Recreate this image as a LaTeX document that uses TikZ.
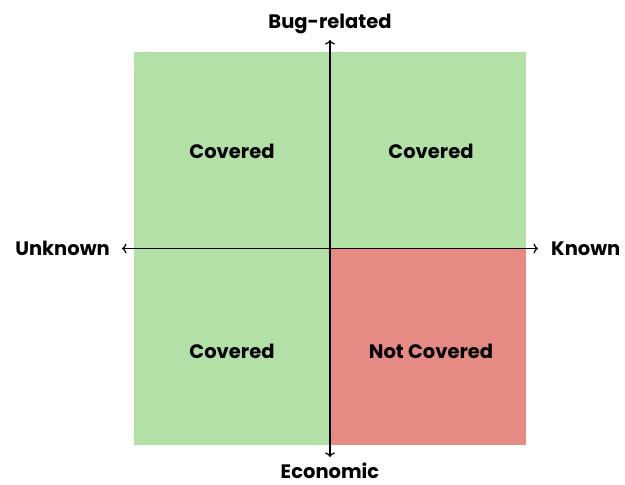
\documentclass[tikz,border=0pt]{standalone}
\usepackage{fontspec}
\setmainfont{Poppins}
\usetikzlibrary{arrows.meta}
\definecolor{qgreen}{HTML}{B3E0A6}
\definecolor{qred}{HTML}{E68A84}
\tikzset{
  quad/.style={draw=none, minimum width=196pt, minimum height=196.5pt, inner sep=0pt, outer sep=0pt},
  lbl/.style={font=\fontsize{19.5}{21}\selectfont\bfseries, text=black, inner sep=0pt, anchor=base},
  axis/.style={line width=1.2pt, -{To[length=4.5pt,width=10pt]}}
}
\begin{document}
\begin{tikzpicture}[x=1pt,y=-1pt]
\useasboundingbox (0,0) rectangle (625,485);
\node[quad, fill=qgreen, anchor=north west] (tl) at (134,52) {};
\node[quad, fill=qgreen, anchor=north west] (tr) at (330,52) {};
\node[quad, fill=qgreen, anchor=north west] (bl) at (134,248.5) {};
\node[quad, fill=qred, anchor=north west] (br) at (330,248.5) {};
\node[lbl] (ctl) at (232,158) {Covered};
\node[lbl] (ctr) at (431,158) {Covered};
\node[lbl] (cbl) at (232,358) {Covered};
\node[lbl] (cbr) at (431,358) {Not Covered};
\coordinate (c) at (330,248.5);
\coordinate (left) at (122,248.5);
\coordinate (right) at (538,248.5);
\coordinate (top) at (330,40);
\coordinate (bottom) at (330,457);
\draw[axis] (c) -- (left);
\draw[axis] (c) -- (right);
\draw[axis] (c) -- (top);
\draw[axis] (c) -- (bottom);
\node[lbl, anchor=base east] (unk) at (110,255) {Unknown};
\node[lbl, anchor=base west] (kn) at (551,255) {Known};
\node[lbl] (bug) at (330,28) {Bug-related};
\node[lbl] (eco) at (330,478) {Economic};
\end{tikzpicture}
\end{document}
